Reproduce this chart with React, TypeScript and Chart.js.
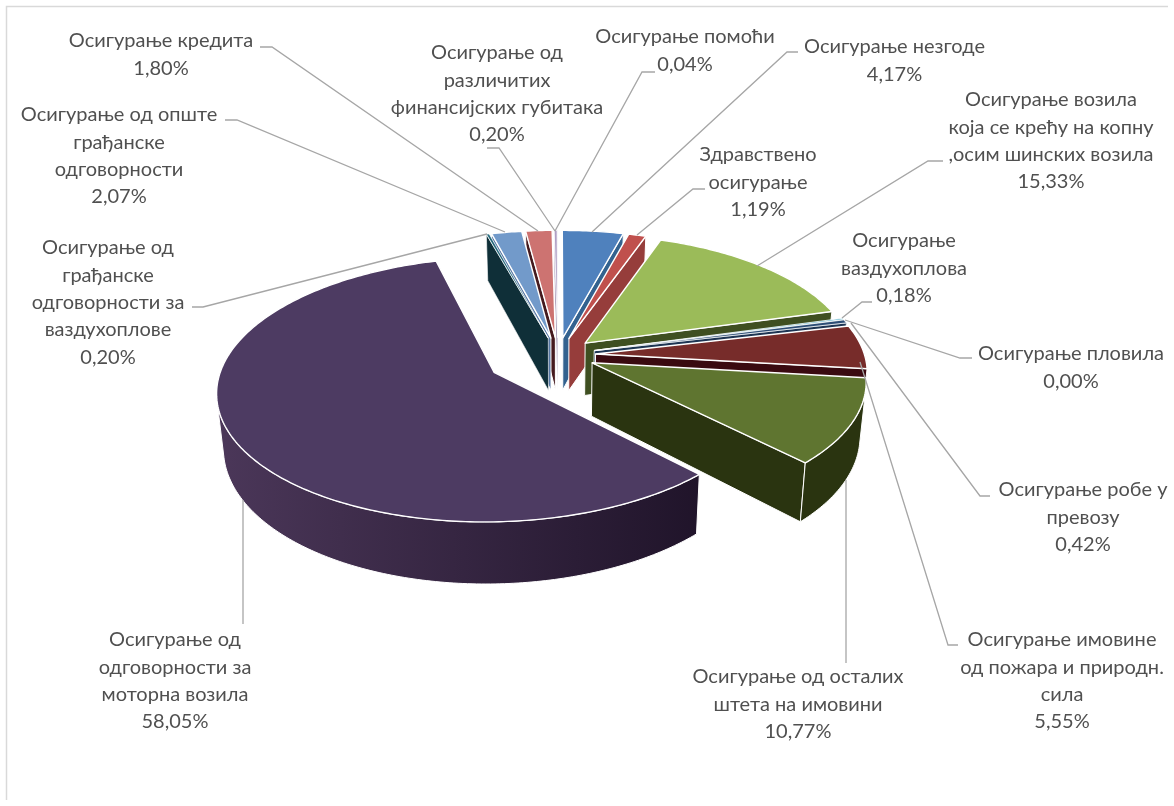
import React, { useEffect, useRef } from "react";
import { Chart, registerables } from "chart.js";

Chart.register(...registerables);

const categories: string[][] = [
  ["Осигурање незгоде"],
  ["Здравствено", "осигурање"],
  ["Осигурање возила", "која се крећу на копну", ",осим шинских возила"],
  ["Осигурање", "ваздухоплова"],
  ["Осигурање пловила"],
  ["Осигурање робе у", "превозу"],
  ["Осигурање имовине", "од пожара и природн.", "сила"],
  ["Осигурање од осталих", "штета на имовини"],
  ["Осигурање од", "одговорности за", "моторна возила"],
  ["Осигурање од", "грађанске", "одговорности за", "ваздухоплове"],
  ["Осигурање од опште", "грађанске", "одговорности"],
  ["Осигурање кредита"],
  ["Осигурање од", "различитих", "финансијских губитака"],
  ["Осигурање помоћи"],
];
const shares = [4.17, 1.19, 15.33, 0.18, 0.0, 0.42, 5.55, 10.77, 58.05, 0.2, 2.07, 1.8, 0.2, 0.04];

const topColors = ["#4f81bd", "#c0504d", "#9bbb59", "#4bacc6", "#f79646", "#2c4d75", "#772c2a", "#5f7530", "#4d3b62", "#276a7c", "#729aca", "#cd7371", "#af9fc4", "#a5c5e6"];
const wallLeft = ["#33628f", "#963d3b", "#3f4f21", "#2c6f85", "#b06a2c", "#1d3553", "#3a0a10", "#2a3410", "#4b3759", "#0f2f38", "#5878a5", "#451a1e", "#8d7da0", "#8aa8c8"];
const wallRight = ["#33628f", "#963d3b", "#3f4f21", "#2c6f85", "#b06a2c", "#1d3553", "#3a0a10", "#2a3410", "#20142a", "#0f2f38", "#5878a5", "#451a1e", "#8d7da0", "#8aa8c8"];
const explode = [0.14, 0.14, 0.14, 0.14, 0.14, 0.14, 0.14, 0.14, 0.27, 0.14, 0.14, 0.14, 0.14, 0.14];

// label layout: centre x, y of first line
const labelAt: [number, number][] = [
  [894.5, 47], [758, 155], [1051, 100], [904, 241], [1071, 354], [1083, 490], [1062, 640],
  [798, 677], [175, 640], [108, 248], [119, 115], [161, 41], [497, 53], [685, 37],
];
const leaders: [number, number][][] = [
  [[798, 52], [787, 52], [592, 232]],
  [[705, 189], [693, 189], [637, 235]],
  [[943, 161], [928, 161], [757, 266]],
  [[872, 302], [862, 302], [842, 318]],
  [[972, 358], [960, 358], [845, 320]],
  [[990, 496], [980, 496], [851, 323]],
  [[958, 645], [948, 645], [860, 362]],
  [[846, 663], [846, 480]],
  [[243, 624], [243, 500]],
  [[192, 307], [203, 307], [487, 234]],
  [[225, 120], [237, 120], [505, 232]],
  [[260, 47], [272, 47], [538, 231]],
  [[487, 148], [499, 148], [555, 231]],
  [[655, 72], [642, 72], [555, 231]],
];

const CX = 558, CY = 355, A = 269, B = 125.5, PERSP = 0.129, DEPTH = 53;

function project(x: number, y: number, low: boolean): [number, number] {
  const s = 1 / (1 - PERSP * y);
  const X = CX + A * x * s;
  const Y = CY + B * y * s;
  return low ? [CX + (X - CX) * 0.98, Y + DEPTH * s] : [X, Y];
}

function poly(ctx: CanvasRenderingContext2D, pts: [number, number][]) {
  ctx.beginPath();
  pts.forEach((p, i) => (i ? ctx.lineTo(p[0], p[1]) : ctx.moveTo(p[0], p[1])));
  ctx.closePath();
}
function area(pts: [number, number][]) {
  let s = 0;
  pts.forEach((p, i) => {
    const q = pts[(i + 1) % pts.length];
    s += p[0] * q[1] - q[0] * p[1];
  });
  return s;
}

const pie3d = {
  id: "pie3d",
  beforeDatasetsDraw(chart: any) {
    const ctx: CanvasRenderingContext2D = chart.ctx;
    const arcs = chart.getDatasetMeta(0).data;
    const slices = arcs
      .map((arc: any, i: number) => {
        const { startAngle, endAngle } = arc.getProps(["startAngle", "endAngle"], true);
        const mid = (startAngle + endAngle) / 2;
        const ox = explode[i] * Math.cos(mid), oy = explode[i] * Math.sin(mid);
        return { i, startAngle, endAngle, ox, oy, key: oy + 0.6 * Math.sin(mid) };
      })
      .filter((s: any) => s.endAngle > s.startAngle)
      .sort((a: any, b: any) => a.key - b.key);

    ctx.save();
    ctx.strokeStyle = "#d9d9d9";
    ctx.lineWidth = 1.5;
    ctx.beginPath();
    ctx.moveTo(6.5, 800);
    ctx.lineTo(6.5, 6.5);
    ctx.lineTo(1168, 6.5);
    ctx.stroke();

    ctx.lineJoin = "round";
    for (const s of slices) {
      const n = Math.max(2, Math.ceil((s.endAngle - s.startAngle) / 0.015));
      const rim: { x: number; y: number }[] = [];
      for (let k = 0; k <= n; k++) {
        const a = s.startAngle + ((s.endAngle - s.startAngle) * k) / n;
        rim.push({ x: s.ox + Math.cos(a), y: s.oy + Math.sin(a) });
      }
      const hi = (p: { x: number; y: number }) => project(p.x, p.y, false);
      const lo = (p: { x: number; y: number }) => project(p.x, p.y, true);
      const tip = { x: s.ox, y: s.oy };
      const thin = s.endAngle - s.startAngle < 0.05;
      ctx.strokeStyle = "#ffffff";
      ctx.lineWidth = thin ? 0.6 : 1;

      // radial faces, drawn only when they turn towards the viewer
      const radial: [any, any][] = [[tip, rim[0]], [rim[n], tip]];
      for (const [p, q] of radial) {
        const quad = [hi(p), hi(q), lo(q), lo(p)];
        if (area(quad) < 0) {
          poly(ctx, quad);
          ctx.fillStyle = wallLeft[s.i];
          ctx.fill();
          ctx.stroke();
        }
      }
      // outer wall: the run of rim segments that face the viewer
      const run: { x: number; y: number }[] = [];
      for (let k = 0; k < n; k++) {
        const quad = [hi(rim[k]), hi(rim[k + 1]), lo(rim[k + 1]), lo(rim[k])];
        if (area(quad) < 0) {
          if (!run.length) run.push(rim[k]);
          run.push(rim[k + 1]);
        }
      }
      if (run.length > 1) {
        const pts = [...run.map(hi), ...run.slice().reverse().map(lo)];
        poly(ctx, pts);
        const xs = pts.map((p) => p[0]);
        const g = ctx.createLinearGradient(Math.min(...xs), 0, Math.max(...xs), 0);
        g.addColorStop(0, wallLeft[s.i]);
        g.addColorStop(1, wallRight[s.i]);
        ctx.fillStyle = g;
        ctx.fill();
        ctx.stroke();
      }
      // top face
      poly(ctx, [hi(tip), ...rim.map(hi)]);
      ctx.fillStyle = topColors[s.i];
      ctx.fill();
      ctx.lineWidth = thin ? 0.8 : 1.4;
      ctx.stroke();
    }

    // leader lines
    ctx.strokeStyle = "#a6a6a6";
    ctx.lineWidth = 1.3;
    ctx.lineJoin = "miter";
    for (const line of leaders) {
      ctx.beginPath();
      line.forEach((p, i) => (i ? ctx.lineTo(p[0], p[1]) : ctx.moveTo(p[0], p[1])));
      ctx.stroke();
    }

    // data labels
    ctx.fillStyle = "#505050";
    ctx.font = '20px Lato, "Open Sans", sans-serif';
    ctx.textAlign = "center";
    ctx.textBaseline = "middle";
    categories.forEach((lines, i) => {
      const [x, y] = labelAt[i];
      const value = shares[i].toFixed(2).replace(".", ",") + "%";
      [...lines, value].forEach((t, k) => ctx.fillText(t, x, y + k * 27.3));
    });
    ctx.restore();
    return false;
  },
};

export default function App() {
  const ref = useRef<HTMLCanvasElement | null>(null);
  useEffect(() => {
    if (!ref.current) return;
    const chart = new Chart(ref.current, {
      type: "pie",
      data: {
        labels: categories.map((l) => l.join(" ")),
        datasets: [{ data: shares, backgroundColor: topColors, borderColor: "#ffffff" }],
      },
      options: {
        responsive: false,
        animation: false,
        events: [],
        plugins: { legend: { display: false }, tooltip: { enabled: false } },
      },
      plugins: [pie3d],
    } as any);
    return () => chart.destroy();
  }, []);
  return (
    <div style={{ position: "fixed", left: 0, top: 0, width: 1174, height: 806, background: "#fff" }}>
      <canvas ref={ref} width={1174} height={806} style={{ display: "block" }} />
    </div>
  );
}
